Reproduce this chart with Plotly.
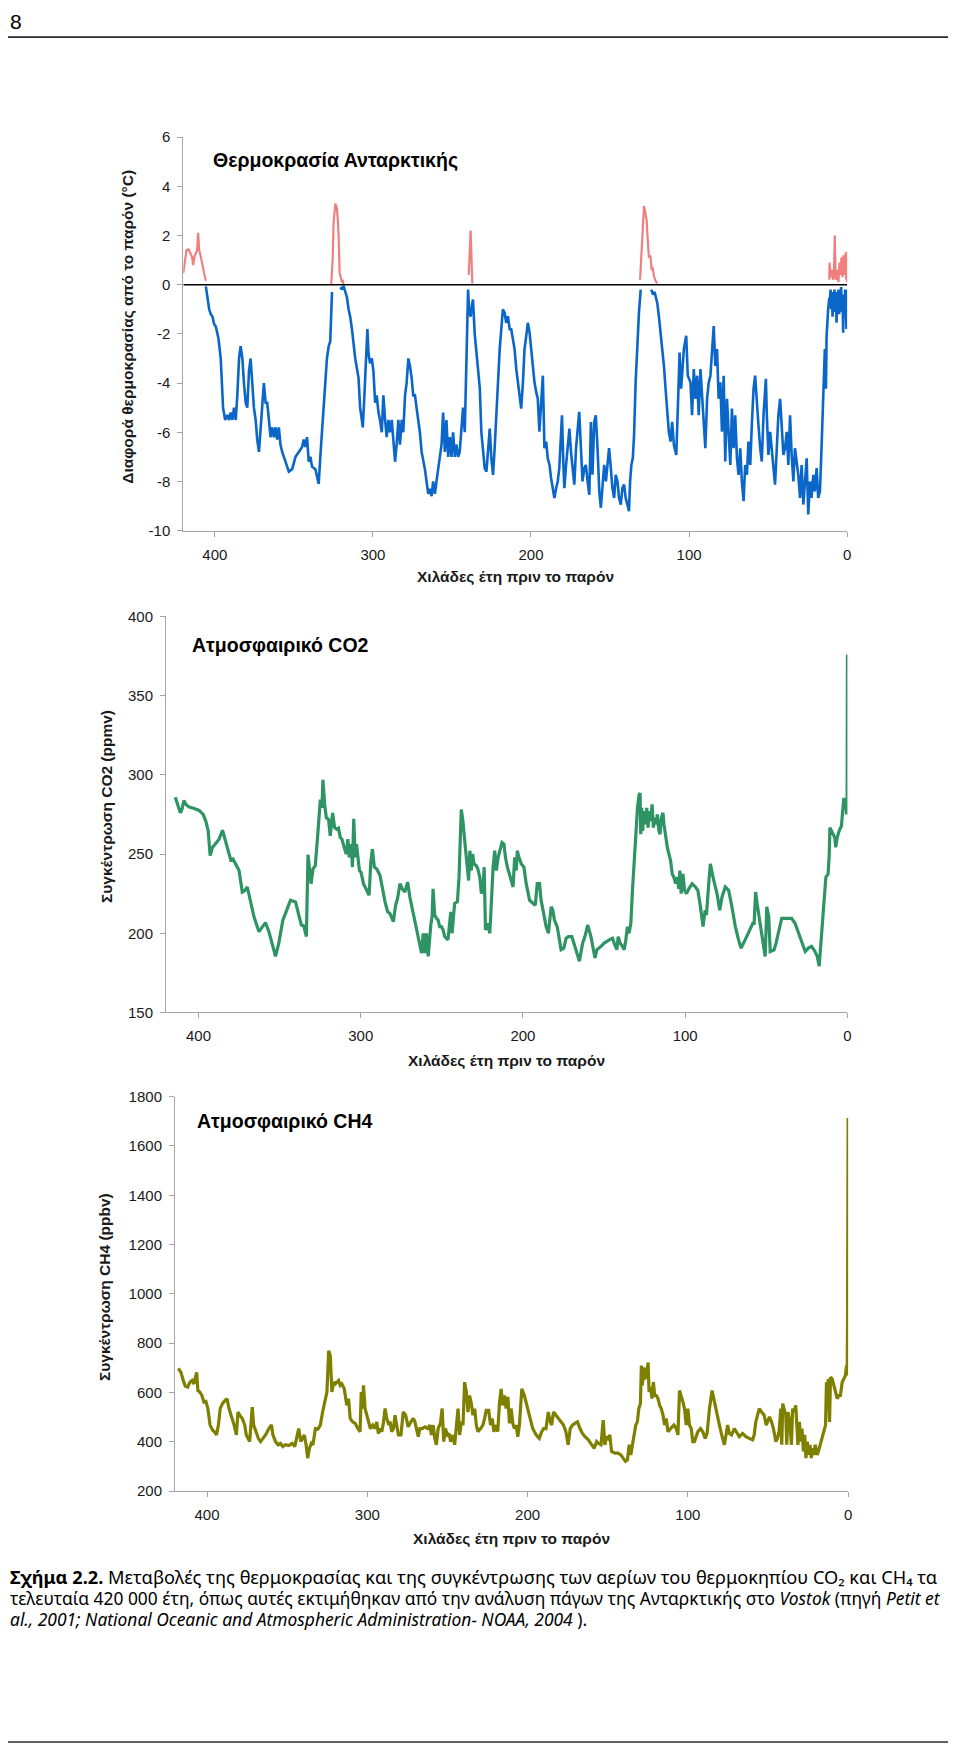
import plotly.graph_objects as go

# ---------------- data ----------------
# Antarctic temperature difference from present (°C), cold part (blue)
temp_cold_age = [
    405.7, 403.6, 402.6, 401.5, 400.5, 399.4, 397.7, 396.3, 394.8, 393.5,
    392.1, 391.0, 390.0, 388.9, 387.9, 386.8, 385.8, 384.7, 383.7, 382.6,
    381.6, 380.5, 379.5, 378.4, 377.4, 376.3, 375.3, 374.2, 373.2, 372.1,
    371.1, 370.0, 369.0, 367.9, 366.9, 365.8, 364.8, 363.7, 362.7, 361.6,
    360.6, 359.5, 358.5, 357.4, 355.3, 353.2, 351.1, 349.0, 346.9, 344.8,
    343.8, 342.7, 341.7, 340.6, 339.6, 338.5, 336.4, 334.3, 333.3, 332.2,
    331.2, 330.1, 329.1, 328.0, 327.0, 325.9, None,
    320.7, 319.6, 318.6, 317.5, 316.5, 315.4, 314.4, 313.3, 312.3, 311.2,
    309.1, 308.1, 307.0, 306.4, 305.4, 304.3, 303.5, 302.8, 301.8, 300.7,
    299.7, 298.6, 297.6, 296.5, 295.5, 294.4, 293.4, 292.3, 291.3, 290.2,
    289.2, 288.1, 287.1, 286.0, 285.0, 283.9, 282.9, 281.8, 280.8, 279.7,
    278.7, 277.6, 276.6, 275.5, 274.5, 273.4, 272.4, 271.3, 270.3, 269.2,
    267.1, 266.1, 265.0, 264.0, 262.9, 261.9, 260.8, 259.8, 258.7, 257.7,
    256.6, 255.6, 254.5, 253.5, 252.4, 251.4, 250.3, 249.3, 248.2, 247.2,
    246.1, 245.1, 244.0, 243.0, 241.9, 240.9, 239.8, 239.2, 238.2, 237.3,
    236.7, 235.6, 234.6,
    232.4, 231.4, 230.4, 229.3, 228.2, 227.2, 226.1, 225.1, 224.0, 223.0,
    221.9, 220.9, 219.8, 218.8, 217.8, 216.7, 215.7, 214.6, 213.5, 212.5,
    211.4, 210.4, 209.3, 208.3, 207.2, 206.2, 205.1, 204.1, 203.0, 202.0,
    200.9, 199.9, 198.8, 197.8, 196.7, 195.7, 194.7, 193.6, 192.5, 191.5,
    190.4, 189.4, 188.3, 187.3, 186.2, 185.2, 184.1, 183.1, 182.1, 181.0,
    180.4, 179.5, 178.9, 177.8, 176.8, 175.7, 174.7, 173.6, 172.6, 171.5,
    170.5, 169.5, 168.4, 167.4, 166.3, 165.3, 164.2, 163.1, 162.1, 161.1,
    160.0, 159.0, 157.9, 156.8, 155.8, 154.8, 153.7, 152.6, 151.6, 150.6,
    149.5, 148.5, 147.4, 146.4, 145.3, 144.3, 143.2, 142.2, 141.1, 140.1,
    139.0, 138.0, 137.3, 136.5, 135.6, 134.8, 133.8, 132.7, 131.7, 130.6, None,
    123.9, 122.8, 121.8, 120.7, 120.1, 119.1, 118.0, 117.0, 115.9, 114.9,
    113.8, 112.8, 111.7, 110.7, 109.6, 108.1, 106.9, 106.0, 105.0, 103.3,
    101.8, 100.8, 99.1, 98.1, 97.0, 96.0, 94.9, 93.9, 92.8, 91.8,
    90.7, 89.7, 88.6, 87.6, 86.5, 85.5, 84.4, 83.4, 82.3, 81.3,
    80.2, 79.2, 78.1, 77.1, 76.0, 75.0, 73.9, 72.9, 71.8, 70.8,
    69.7, 68.7, 67.6, 66.6, 65.5, 64.5, 63.4, 62.4, 61.3, 60.3,
    59.2, 58.2, 57.1, 56.1, 55.0, 54.0, 52.9, 51.4, 50.8, 49.8,
    48.7, 47.7, 46.6, 45.6, 44.5, 43.5, 42.4, 41.4, 40.3, 39.3,
    38.2, 37.2, 36.1, 35.1, 34.0, 33.0, 31.9, 30.9, 29.8, 28.8,
    27.7, 26.7, 25.6, 24.6, 23.5, 22.5, 21.4, 20.4, 19.3, 18.3,
    17.2, 16.2, 15.1, 14.1, 13.4, 13.0, 12.0, 11.3,
    10.9, 10.5, 10.1, 9.7, 9.2, 8.8, 8.4, 8.0, 7.6, 7.1,
    6.7, 6.3, 5.9, 5.5, 5.0, 4.6, 4.2, 3.8, 3.4, 2.9,
    2.5, 2.1, 1.7, 1.3, 0.8, 0.4, 0.0]
temp_cold_val = [
    -0.07, -1.0, -1.2, -1.3, -1.6, -1.7, -2.2, -3.0, -5.0, -5.5,
    -5.3, -5.5, -5.2, -5.5, -5.0, -5.5, -4.5, -3.0, -2.5, -3.0,
    -4.0, -4.8, -5.0, -3.5, -3.0, -4.0, -5.0, -5.5, -6.3, -6.8,
    -6.0, -5.0, -4.0, -4.8, -4.8, -5.5, -6.2, -5.8, -6.2, -5.8,
    -6.3, -5.8, -6.5, -6.8, -7.2, -7.6, -7.5, -7.0, -6.8, -6.6,
    -6.3, -6.6, -6.2, -7.2, -7.0, -7.4, -7.5, -8.1, -7.0, -6.0,
    -5.0, -4.0, -3.0, -2.5, -2.3, -0.3, None,
    -0.1, -0.2, -0.05, -0.3, -0.5, -1.0, -1.3, -1.8, -2.5, -3.0,
    -3.8, -5.0, -5.5, -5.8, -4.5, -3.0, -1.8, -2.8, -3.2, -3.0,
    -3.5, -4.8, -4.5, -5.2, -5.5, -6.0, -4.5, -5.5, -6.2, -5.5,
    -6.0, -5.5, -6.5, -7.2, -6.5, -5.5, -6.5, -5.5, -6.0, -4.5,
    -4.0, -3.0, -3.3, -3.8, -4.5, -4.5, -5.0, -5.5, -6.0, -6.8,
    -7.5, -8.0, -8.5, -8.3, -8.6, -8.0, -8.5, -8.0, -7.5, -7.0,
    -6.5, -5.2, -6.8, -5.5, -7.0, -6.2, -7.0, -6.0, -7.0, -6.5,
    -7.0, -6.8, -6.0, -5.0, -6.0, -2.5, -0.2, -1.0, -1.3, -0.8,
    -0.6, -2.0, -2.8,
    -4.2, -6.0, -6.65, -7.46, -7.6, -6.65, -5.85, -7.06, -7.73, -6.65,
    -5.04, -3.97, -2.62, -1.81, -1.0, -1.14, -1.55, -1.28, -1.81, -1.81,
    -2.35, -2.62, -3.43, -3.97, -4.5, -5.04, -3.97, -2.62, -2.08, -1.55,
    -1.95, -2.62, -3.43, -3.97, -4.37, -4.64, -5.98, -5.04, -3.7, -6.65,
    -6.38, -7.06, -7.33, -7.86, -8.27, -8.67, -8.27, -8.0, -7.46, -6.12,
    -5.31, -7.33, -8.27, -7.33, -6.65, -5.85, -6.79, -7.46, -8.13, -6.65,
    -5.98, -5.17, -6.65, -8.0, -7.46, -7.33, -8.0, -8.54, -5.58, -7.73,
    -5.58, -5.31, -6.65, -8.4, -9.07, -8.0, -7.33, -8.0, -7.33, -6.65,
    -7.46, -8.27, -8.67, -7.73, -8.0, -8.67, -8.94, -8.27, -8.13, -8.67,
    -8.94, -9.21, -8.0, -7.33, -7.06, -6.12, -3.97, -2.35, -1.14, -0.2, None,
    -0.2, -0.4, -0.3, -0.6, -0.75, -1.28, -1.95, -2.62, -3.3, -4.2,
    -5.04, -5.98, -6.38, -5.58, -6.52, -6.92, -4.64, -2.76, -4.23, -2.62,
    -2.08, -3.7, -3.97, -5.31, -3.43, -4.64, -3.7, -5.31, -3.43, -4.5,
    -5.31, -6.65, -4.64, -4.0, -3.7, -2.62, -1.68, -3.3, -2.62, -4.64,
    -3.97, -5.98, -3.7, -7.19, -4.64, -5.98, -7.33, -5.04, -6.65, -5.31,
    -7.06, -7.73, -6.65, -8.0, -8.8, -7.33, -7.73, -6.38, -7.33, -5.71,
    -4.23, -3.7, -5.04, -5.71, -6.65, -7.19, -5.31, -3.83, -5.31, -6.92,
    -5.98, -6.65, -7.46, -8.13, -6.65, -5.31, -4.64, -5.58, -6.92, -6.65,
    -5.98, -7.33, -5.31, -6.92, -8.0, -6.65, -7.19, -7.73, -8.67, -7.33,
    -8.94, -8.0, -7.06, -9.34, -8.0, -8.67, -7.73, -8.4, -7.46, -8.67,
    -8.4, -6.65, -4.64, -2.62, -4.23, -2.08, -1.0, -0.54,
    -0.7, -0.2, -1.0, -0.3, -1.3, -0.4, -1.1, -0.2, -0.9, -0.3,
    -1.55, -0.5, -1.0, -0.2, -1.2, -0.4, -0.9, -0.1, -1.1, -0.5,
    -1.95, -0.4, -1.2, -0.2, -1.0, -1.8, -0.2]

# warm part (pink), interglacial peaks
temp_warm_age = [
    420.0, 418.7, 417.9, 416.6, 415.6, 414.5, 413.7, 412.9, 412.0, 411.2,
    410.6, 409.9, 408.9, 407.8, 406.8, 405.7, None,
    326.4, 325.5, 324.9, 324.3, 323.8, 323.2, 322.8, 322.2, 321.7, 321.1,
    320.3, 319.6, 319.2, 318.6, None,
    239.4, 238.6, 238.2, 237.7, 237.1, None,
    131.0, 130.2, 129.6, 128.9, 128.5, 127.9, 127.5, 126.8, 126.4, 125.8,
    125.4, 124.7, 124.3, 123.7, 123.0, 122.2, 121.2, 120.1, None,
    11.3, 11.1, 10.7, 10.3, 9.9, 9.4, 9.0, 8.4, 7.8, 7.3,
    6.7, 6.1, 5.5, 4.8, 4.2, 3.6, 2.9, 2.3, 1.7, 1.0,
    0.6, 0.2, 0.0]
temp_warm_val = [
    0.47, 1.14, 1.41, 1.44, 1.28, 1.14, 0.8, 1.14, 1.28, 1.41,
    2.11, 1.41, 1.14, 0.74, 0.47, 0.16, None,
    0.0, 1.0, 2.5, 3.1, 3.3, 3.2, 3.1, 2.6, 2.0, 0.5,
    0.3, 0.1, 0.2, 0.0, None,
    0.4, 1.5, 2.2, 1.2, 0.05, None,
    0.2, 1.2, 1.7, 2.8, 3.2, 3.0, 2.8, 2.6, 2.1, 1.3,
    1.1, 1.2, 1.1, 0.6, 0.7, 0.35, 0.15, 0.05, None,
    0.2, 0.9, 0.5, 0.3, 0.5, 0.6, 0.2, 0.3, 2.0, 0.3,
    0.2, 0.6, 0.1, 0.9, 0.4, 1.1, 0.3, 1.2, 0.4, 1.3,
    0.2, 1.35, 0.1]

# Atmospheric CO2 (ppmv)
co2_age = [
    414.3, 412.4, 411.2, 410.2, 409.0, 407.7, 405.7, 402.6, 399.6, 397.1,
    395.5, 394.0, 392.8, 391.4, 389.3, 387.3, 385.2, 383.8, 382.2, 380.1,
    378.7, 377.1, 375.0, 373.0, 371.3, 369.9, 367.9, 365.8, 362.7, 360.1,
    358.7, 356.6, 354.6, 352.5, 350.5, 348.0, 346.0, 343.3, 340.2, 338.2,
    336.6, 335.1, 333.5, 332.5, 331.5, 330.6, 329.4, 328.0, 326.3, 324.9,
    323.9, 323.3, 322.2, 321.2, 319.8, 318.8, 317.3, 316.1, 314.7, 313.7,
    312.6, 311.6, 310.2, 308.9, 307.9, 307.1, 305.9, 305.1, 304.3, 303.4,
    302.6, 301.8, 300.8, 299.8, 298.3, 296.3, 294.8, 293.8, 292.8, 291.6,
    290.1, 288.1, 286.5, 285.0, 283.4, 282.0, 279.9, 278.5, 277.3, 275.8,
    274.4, 272.8, 271.1, 269.7, 267.6, 265.6, 264.2, 262.5, 261.5, 260.5,
    259.5, 258.4, 256.8, 256.0, 255.4, 254.4, 253.3, 252.3, 251.3, 250.3,
    249.2, 248.2, 246.2, 244.5, 243.7, 242.9, 242.1, 240.4, 239.4, 238.0,
    237.0, 235.5, 234.3, 233.5, 232.7, 231.9, 231.0, 230.2, 228.8, 227.8,
    226.6, 225.6, 224.5, 223.9, 223.1, 221.9, 220.4, 219.4, 218.4, 217.4,
    216.4, 215.3, 214.3, 212.9, 211.7, 210.8, 209.6, 208.2, 207.2, 206.1,
    205.1, 204.1, 203.5, 202.5, 201.0, 199.4, 198.0, 195.9, 193.9, 192.4,
    191.2, 189.8, 188.8, 186.7, 185.7, 184.3, 182.6, 181.6, 180.6, 178.9,
    177.5, 176.5, 174.8, 173.4, 172.0, 169.9, 168.3, 166.7, 165.2, 163.2,
    161.8, 160.1, 158.1, 155.6, 154.4, 151.9, 149.9, 146.8, 144.8, 143.4,
    142.1, 141.3, 140.1, 138.7, 137.6, 136.6, 135.6, 134.6, 133.5, 132.5,
    131.5, 130.5, 129.4, 128.4, 127.8, 127.4, 126.8, 126.2, 125.4, 124.3,
    123.7, 122.9, 122.1, 121.3, 120.4, 119.6, 118.8, 117.8, 117.2, 116.2,
    115.5, 114.7, 113.7, 113.1, 112.1, 111.0, 110.0, 109.0, 108.0, 107.0,
    105.9, 104.9, 103.9, 103.3, 102.5, 101.4, 100.4, 99.2, 97.8, 95.7,
    93.7, 92.2, 90.6, 89.0, 87.7, 86.9, 85.5, 84.5, 82.4, 80.4,
    78.7, 77.3, 75.3, 73.2, 71.2, 69.1, 67.1, 65.6, 64.0, 62.0,
    59.9, 58.3, 57.5, 56.6, 55.4, 53.8, 52.4, 50.7, 49.7, 48.5,
    47.6, 45.2, 44.0, 42.5, 40.5, 38.4, 36.4, 34.4, 32.3, 30.9,
    29.2, 27.2, 26.0, 24.1, 22.1, 20.0, 18.6, 17.4, 16.0, 14.5,
    13.3, 11.9, 11.2, 10.8, 9.8, 8.8, 7.8, 7.2, 6.3, 5.1,
    3.7, 3.1, 2.2, 1.6, 1.0, 0.6, 0.2, 0.0]
co2_val = [
    285.8, 280.2, 276.0, 278.1, 283.8, 281.3, 279.6, 278.8, 277.5, 275.0,
    270.8, 264.6, 249.0, 254.2, 256.7, 259.4, 265.0, 259.4, 253.1, 246.3,
    246.9, 243.8, 239.6, 226.0, 227.1, 229.2, 218.8, 210.4, 201.0, 204.2,
    206.7, 201.0, 193.8, 185.4, 193.8, 208.3, 213.5, 220.8, 219.8, 212.5,
    205.2, 204.6, 197.9, 249.6, 237.5, 231.3, 240.6, 242.7, 264.6, 284.4,
    279.2, 296.9, 281.3, 272.9, 271.9, 261.5, 276.0, 266.7, 265.6, 266.3,
    260.4, 259.4, 254.2, 250.0, 259.4, 247.9, 256.3, 241.7, 272.3, 247.9,
    256.3, 250.0, 239.6, 238.5, 231.3, 227.1, 224.0, 244.8, 253.1, 241.7,
    240.6, 236.5, 227.1, 219.8, 213.5, 212.5, 207.3, 217.7, 221.9, 231.3,
    228.1, 226.0, 232.3, 222.9, 212.5, 202.1, 195.8, 187.5, 200.0, 187.5,
    200.0, 185.4, 205.2, 210.4, 228.1, 211.5, 209.4, 208.3, 204.2, 204.2,
    202.1, 197.9, 195.8, 213.5, 200.0, 208.3, 218.8, 219.8, 235.4, 278.1,
    270.8, 254.2, 243.8, 233.3, 252.1, 239.6, 250.0, 243.8, 242.7, 240.6,
    235.4, 225.0, 231.3, 241.7, 202.1, 206.3, 200.0, 222.9, 241.7, 252.1,
    239.6, 247.9, 252.1, 257.3, 256.3, 247.9, 241.7, 237.5, 233.3, 229.2,
    247.9, 239.6, 252.1, 247.9, 243.8, 241.7, 231.3, 220.8, 218.8, 217.7,
    231.3, 231.3, 220.8, 210.4, 204.2, 200.0, 216.7, 214.6, 208.3, 204.2,
    193.8, 189.6, 190.6, 196.9, 197.9, 197.9, 192.7, 187.5, 182.3, 193.8,
    197.9, 205.2, 197.9, 184.4, 189.6, 191.7, 193.8, 195.8, 196.9, 192.7,
    189.6, 197.9, 193.8, 191.7, 189.6, 195.8, 204.2, 200.0, 206.3, 227.1,
    243.8, 258.3, 279.2, 287.5, 288.5, 262.5, 279.2, 264.6, 277.1, 268.8,
    279.2, 266.7, 277.1, 270.8, 281.3, 266.7, 272.9, 268.8, 275.0, 264.6,
    262.5, 272.9, 276.0, 268.8, 260.4, 254.2, 250.0, 245.8, 237.5, 235.4,
    231.3, 235.4, 228.1, 239.6, 225.0, 237.5, 227.1, 225.0, 228.1, 231.3,
    229.2, 227.1, 216.7, 204.2, 214.6, 211.5, 231.3, 243.8, 233.3, 225.0,
    214.6, 222.9, 229.2, 227.1, 216.7, 204.2, 195.8, 190.6, 193.8, 197.9,
    202.1, 206.3, 206.3, 226.0, 216.7, 206.3, 195.8, 185.4, 216.7, 210.4,
    188.5, 189.6, 193.8, 200.0, 209.4, 209.4, 209.4, 209.4, 206.3, 202.1,
    196.9, 191.7, 188.5, 190.6, 191.7, 188.5, 185.4, 179.2, 197.9, 214.6,
    235.4, 237.5, 250.0, 266.7, 264.6, 261.5, 260.4, 254.2, 260.4, 264.6,
    267.7, 275.0, 285.4, 281.3, 283.3, 275.0, 283.3, 376.0]

# Atmospheric CH4 (ppbv)
ch4_age = [
    417.9, 416.3, 414.8, 413.6, 412.1, 410.7, 409.4, 408.2, 406.5, 405.7,
    404.5, 403.2, 402.0, 400.7, 399.5, 398.1, 396.6, 395.4, 394.1, 392.9,
    391.8, 390.4, 388.7, 387.5, 386.3, 384.2, 383.1, 381.7, 380.7, 379.6,
    378.0, 376.5, 375.5, 373.4, 372.2, 371.8, 370.9, 369.7, 368.0, 366.6,
    365.1, 363.5, 361.4, 359.8, 358.9, 357.3, 355.6, 354.2, 352.7, 351.1,
    349.0, 346.9, 345.3, 343.8, 342.8, 341.5, 340.3, 339.3, 338.2, 337.2,
    336.1, 334.9, 333.9, 332.4, 330.8, 329.3, 327.9, 326.2, 325.2, 324.1,
    323.1, 322.1, 321.0, 320.0, 319.0, 317.9, 316.9, 315.9, 314.4, 312.8,
    311.7, 310.7, 309.2, 307.6, 305.9, 304.5, 303.8, 303.0, 302.4, 301.4,
    300.3, 299.3, 298.1, 296.6, 295.2, 294.1, 293.1, 292.0, 291.0, 290.0,
    288.9, 287.9, 286.9, 285.8, 284.8, 283.7, 282.7, 281.7, 280.6, 279.0,
    277.6, 276.1, 274.5, 272.8, 271.3, 270.3, 269.3, 268.2, 267.2, 265.8,
    264.1, 262.4, 261.0, 260.0, 258.9, 257.9, 256.9, 255.8, 254.4, 253.3,
    252.3, 251.3, 250.0, 249.0, 248.0, 246.5, 245.5, 244.4, 243.4, 242.4,
    241.3, 240.3, 239.3, 238.2, 237.2, 236.2, 235.1, 234.1, 233.0, 232.0,
    231.0, 229.3, 227.9, 226.8, 225.8, 224.3, 223.1, 222.1, 221.0, 219.6,
    218.6, 217.5, 216.5, 215.5, 214.4, 213.4, 212.3, 211.3, 210.3, 209.2,
    208.2, 207.2, 206.1, 205.1, 203.6, 202.0, 200.3, 198.9, 196.8, 194.7,
    192.7, 191.2, 190.0, 188.5, 187.1, 185.8, 185.0, 183.8, 182.3, 180.9,
    179.2, 177.6, 176.1, 174.7, 173.4, 172.0, 170.5, 168.9,
    167.3, 165.8, 164.2, 162.1, 160.0, 158.4, 156.9, 155.9, 154.2, 152.8,
    151.8, 150.7, 149.7, 148.7, 147.6, 145.5, 143.5, 141.8, 140.4, 138.9,
    137.7, 136.6, 135.6, 134.8, 133.5, 132.5, 131.5, 130.6, 129.6, 129.0,
    128.4, 127.5, 126.9, 125.9, 124.8, 124.2, 123.2, 122.4, 121.5, 120.7,
    119.7, 118.6, 117.6, 116.6, 115.5, 114.5, 113.5, 112.4, 110.8, 108.7,
    107.2, 106.2, 105.2, 104.1, 103.1, 102.1, 101.0, 100.0, 99.0, 97.9,
    96.9, 95.9, 94.8, 93.8, 92.1, 90.7, 89.2, 88.0, 86.5, 84.9,
    83.4, 81.8, 80.3, 78.9, 77.2, 76.2, 75.2, 74.1, 72.7, 71.0,
    69.4, 67.9, 65.8, 63.8, 61.7, 59.6, 58.6, 57.6, 56.5, 55.5,
    54.0, 52.4, 51.1, 50.3, 49.1, 47.8, 46.6, 45.1, 44.1, 43.1,
    42.0, 41.4, 40.8, 40.0, 38.9, 38.3, 37.5, 36.4, 35.4, 34.6,
    33.7, 32.7, 32.1, 31.3, 30.4, 29.6, 28.8, 27.9, 27.1, 26.3,
    25.5, 24.6, 23.8, 23.0, 22.2, 21.3, 20.5, 19.3, 18.0, 16.8,
    15.5, 14.1, 13.5, 13.0, 12.4, 11.6, 11.0, 9.9, 8.9, 7.9,
    6.8, 5.8, 4.8, 3.7, 2.7, 1.7, 1.0, 0.6, 0.4, 0.2, 0.0]
ch4_val = [
    698, 682, 649, 626, 622, 642, 649, 635, 682, 608,
    602, 588, 562, 564, 535, 468, 448, 441, 428, 468,
    535, 555, 568, 575, 535, 495, 468, 428, 521, 508,
    495, 468, 428, 401, 508, 541, 468, 441, 414, 401,
    414, 428, 454, 468, 428, 401, 388, 394, 381, 388,
    385, 394, 381, 428, 454, 401, 414, 428, 388, 334,
    374, 394, 388, 454, 452, 468, 521, 575, 602, 769,
    749, 602, 642, 635, 642, 649, 629, 635, 615, 548,
    575, 495, 481, 475, 454, 441, 602, 535, 629, 535,
    508, 481, 454, 468, 454, 481, 434, 454, 441, 475,
    535, 495, 475, 481, 441, 454, 508, 468, 428, 428,
    521, 508, 461, 481, 495, 481, 454, 421, 454, 454,
    461, 454, 468, 428, 468, 414, 388, 454, 475, 535,
    401, 454, 428, 434, 401, 428, 388, 454, 535, 428,
    481, 468, 642, 602, 521, 588, 555, 508, 535, 468,
    441, 454, 468, 495, 528, 528, 468, 495, 441, 468,
    441, 562, 615, 548, 588, 535, 582, 475, 535, 475,
    454, 468, 421, 468, 615, 588, 548, 508, 454, 428,
    414, 441, 454, 454, 521, 481, 468, 521, 508, 495,
    481, 468, 441, 388, 454, 468, 475, 481,
    454, 434, 421, 408, 388, 374, 401, 394, 388, 488,
    388, 421, 414, 428, 361, 354, 354, 347, 334, 321,
    327, 388, 347, 374, 428, 468, 481, 535, 555, 709,
    629, 702, 655, 669, 722, 602, 622, 575, 642, 588,
    588, 575, 548, 535, 508, 468, 495, 441, 454, 468,
    454, 428, 608, 588, 562, 535, 468, 535, 468, 454,
    401, 401, 428, 441, 454, 441, 414, 434, 535, 608,
    562, 508, 468, 428, 388, 428, 468, 434, 428, 454,
    434, 421, 434, 421, 414, 408, 428, 481, 508, 535,
    521, 508, 468, 481, 501, 481, 454, 401, 414, 441,
    535, 388, 555, 535, 508, 388, 521, 481, 388, 535,
    521, 548, 454, 388, 481, 401, 454, 361, 428, 334,
    401, 347, 388, 334, 374, 347, 388, 347, 374, 401,
    428, 468, 642, 588, 655, 481, 662, 655, 629, 602,
    575, 588, 588, 642, 655, 669, 709, 669, 843, 1070, 1713]

x_ticks = [400, 300, 200, 100, 0]
temp_ticks = [6, 4, 2, 0, -2, -4, -6, -8, -10]
co2_ticks = [400, 350, 300, 250, 200, 150]
ch4_ticks = [1800, 1600, 1400, 1200, 1000, 800, 600, 400, 200]

panel_titles = ["Θερμοκρασία Ανταρκτικής", "Ατμοσφαιρικό CO2", "Ατμοσφαιρικό CH4"]
y_titles = ["Διαφορά θερμοκρασίας από το παρόν (°C)",
            "Συγκέντρωση CO2 (ppmv)", "Συγκέντρωση CH4 (ppbv)"]
x_title = "Χιλάδες έτη πριν το παρόν"

# ---------------- layout helpers ----------------
# The page body keeps its default 8 px margin, so the figure is 944 x 1740 and
# page positions are converted to paper fractions with that offset.
PAGE_W, PAGE_H = 960, 1756
OFF = 8
W, H = PAGE_W - 2 * OFF, PAGE_H - 2 * OFF


def fx(p):
    return (p - OFF) / W


def fy(p):
    return 1 - (p - OFF) / H


FONT = "Liberation Sans, Arial, sans-serif"
GREY = "#a6a6a6"
TXT = "#1a1a1a"

fig = go.Figure()
fig.add_trace(go.Scatter(x=temp_cold_age, y=temp_cold_val, mode="lines",
                         line=dict(color="#0b66c9", width=2.6),
                         xaxis="x", yaxis="y", hoverinfo="skip"))
fig.add_trace(go.Scatter(x=temp_warm_age, y=temp_warm_val, mode="lines",
                         line=dict(color="#f07f7f", width=2.2),
                         xaxis="x", yaxis="y", hoverinfo="skip"))
fig.add_trace(go.Scatter(x=co2_age, y=co2_val, mode="lines",
                         line=dict(color="#2f9463", width=3.2),
                         xaxis="x2", yaxis="y2", hoverinfo="skip"))
fig.add_trace(go.Scatter(x=ch4_age, y=ch4_val, mode="lines",
                         line=dict(color="#7f7f00", width=3.2),
                         xaxis="x3", yaxis="y3", hoverinfo="skip"))


def xaxis(domain, anchor):
    return dict(domain=domain, anchor=anchor, range=[420, 0], autorange=False,
                tickmode="array", tickvals=x_ticks, ticktext=[str(v) for v in x_ticks],
                showline=True, linecolor=GREY, linewidth=1, ticks="outside",
                ticklen=5, tickcolor=GREY, tickwidth=1, showgrid=False, zeroline=False,
                tickfont=dict(family=FONT, size=15, color=TXT), ticklabelstandoff=5)


def yaxis(domain, anchor, rng, ticks):
    return dict(domain=domain, anchor=anchor, range=rng, autorange=False,
                tickmode="array", tickvals=ticks, ticktext=[str(v) for v in ticks],
                showline=True, linecolor=GREY, linewidth=1, ticks="outside",
                ticklen=5, tickcolor=GREY, tickwidth=1, showgrid=False, zeroline=False,
                tickfont=dict(family=FONT, size=15, color=TXT), ticklabelstandoff=4)


# panel geometry in page pixels: (left, right, top, bottom)
P1 = (184.0, 850.7, 129.3, 526.7)
P2 = (166.7, 851.0, 613.3, 1013.3)
P3 = (175.7, 851.7, 1098.3, 1496.7)

fig.update_layout(
    width=W, height=H, margin=dict(l=0, r=0, t=0, b=0),
    paper_bgcolor="white", plot_bgcolor="white", showlegend=False,
    xaxis=xaxis([fx(P1[0]), fx(P1[1])], "y"),
    yaxis=yaxis([fy(P1[3]), fy(P1[2])], "x", [-10, 6], temp_ticks),
    xaxis2=xaxis([fx(P2[0]), fx(P2[1])], "y2"),
    yaxis2=yaxis([fy(P2[3]), fy(P2[2])], "x2", [150, 400], co2_ticks),
    xaxis3=xaxis([fx(P3[0]), fx(P3[1])], "y3"),
    yaxis3=yaxis([fy(P3[3]), fy(P3[2])], "x3", [200, 1800], ch4_ticks),
)

shapes = [
    # zero line of the temperature panel
    dict(type="line", xref="x", yref="y", x0=420, x1=0, y0=0, y1=0,
         line=dict(color="black", width=1.6), layer="above"),
    # page header / footer rules
    dict(type="line", xref="paper", yref="paper", x0=0, x1=1, y0=fy(28.3), y1=fy(28.3),
         line=dict(color="#2b2b2b", width=1.6)),
    dict(type="line", xref="paper", yref="paper", x0=0, x1=1, y0=fy(1750), y1=fy(1750),
         line=dict(color="#2b2b2b", width=1.6)),
]
fig.update_layout(shapes=shapes)

ann = []


def text(x, y, s, size, bold=False, xanchor="left", angle=0, family=FONT, color="black"):
    ann.append(dict(xref="paper", yref="paper", x=max(fx(x), 0), y=fy(y),
                    text=(f"<b>{s}</b>" if bold else s),
                    showarrow=False, xanchor=xanchor, yanchor="middle", textangle=angle,
                    font=dict(family=family, size=size, color=color)))


# page number
text(8, 13, "8", 21)

# panel titles
text(211.5, 152.7, panel_titles[0], 19.5, bold=True)
text(190.5, 641.7, panel_titles[1], 19.5, bold=True)
text(195.5, 1123.3, panel_titles[2], 19.5, bold=True)

# x-axis titles
text((P1[0] + P1[1]) / 2, 573.5, x_title, 15.5, bold=True, xanchor="center", color=TXT)
text((P2[0] + P2[1]) / 2, 1061.7, x_title, 15.5, bold=True, xanchor="center", color=TXT)
text((P3[0] + P3[1]) / 2, 1545.0, x_title, 15.5, bold=True, xanchor="center", color=TXT)

# y-axis titles
text(128.3, 321.0, y_titles[0], 15.5, bold=True, xanchor="center", angle=-90, color=TXT)
text(106.7, 805.5, y_titles[1], 15.5, bold=True, xanchor="center", angle=-90, color=TXT)
text(105.0, 1291.0, y_titles[2], 15.5, bold=True, xanchor="center", angle=-90, color=TXT)

# caption
CAP = "Noto Sans, DejaVu Sans, sans-serif"
cap1 = ("<b>Σχήμα 2.2.</b> Μεταβολές της θερμοκρασίας και της συγκέντρωσης των αερίων του "
        "θερμοκηπίου CO\u2082 και CH\u2084 τα")
cap2 = ("τελευταία 420 000 έτη, όπως αυτές εκτιμήθηκαν από την ανάλυση πάγων της Ανταρκτικής "
        "στο <i>Vostok</i> (πηγή <i>Petit et</i>")
cap3 = "<i>al., 2001; National Oceanic and Atmospheric Administration- NOAA, 2004 </i>)."
text(8, 1583, cap1, 18.2, family=CAP)
text(8, 1605, cap2, 17.4, family=CAP)
text(8, 1626, cap3, 17.4, family=CAP)

fig.update_layout(annotations=ann)

fig.write_html("out.html", config={"displayModeBar": False})
